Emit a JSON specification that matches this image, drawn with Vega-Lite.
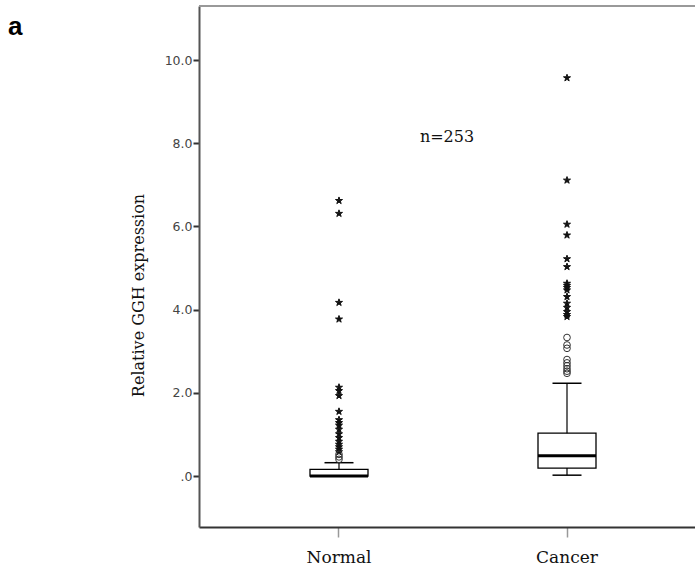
{
  "$schema": "https://vega.github.io/schema/vega-lite/v6.json",
  "autosize": "none",
  "padding": {"left": 199, "top": 6, "right": 0, "bottom": 44},
  "width": 496,
  "height": 521,
  "background": "white",
  "title": {"text": "a", "anchor": "start", "frame": "group", "orient": "top", "font": "Liberation Sans", "fontSize": 26, "fontWeight": "bold", "color": "black", "dx": -191, "dy": 56, "offset": 0, "baseline": "alphabetic"},
  "config": {"view": {"stroke": null}},
  "datasets": {
    "boxes": [
      {"group": "Normal", "lo": 0.0, "q1": 0.0, "median": 0.0, "q3": 0.16, "hi": 0.32},
      {"group": "Cancer", "lo": 0.02, "q1": 0.19, "median": 0.49, "q3": 1.03, "hi": 2.23}
    ],
    "outliers": [
      {"group": "Normal", "value": 6.62, "kind": "extreme"},
      {"group": "Normal", "value": 6.31, "kind": "extreme"},
      {"group": "Normal", "value": 4.17, "kind": "extreme"},
      {"group": "Normal", "value": 3.77, "kind": "extreme"},
      {"group": "Normal", "value": 2.13, "kind": "extreme"},
      {"group": "Normal", "value": 2.05, "kind": "extreme"},
      {"group": "Normal", "value": 1.93, "kind": "extreme"},
      {"group": "Normal", "value": 1.55, "kind": "extreme"},
      {"group": "Normal", "value": 1.35, "kind": "extreme"},
      {"group": "Normal", "value": 1.28, "kind": "extreme"},
      {"group": "Normal", "value": 1.22, "kind": "extreme"},
      {"group": "Normal", "value": 1.12, "kind": "extreme"},
      {"group": "Normal", "value": 1.01, "kind": "extreme"},
      {"group": "Normal", "value": 0.92, "kind": "extreme"},
      {"group": "Normal", "value": 0.83, "kind": "extreme"},
      {"group": "Normal", "value": 0.76, "kind": "extreme"},
      {"group": "Normal", "value": 0.70, "kind": "extreme"},
      {"group": "Normal", "value": 0.64, "kind": "extreme"},
      {"group": "Normal", "value": 0.58, "kind": "extreme"},
      {"group": "Normal", "value": 0.52, "kind": "outlier"},
      {"group": "Normal", "value": 0.46, "kind": "outlier"},
      {"group": "Normal", "value": 0.40, "kind": "outlier"},
      {"group": "Cancer", "value": 9.57, "kind": "extreme"},
      {"group": "Cancer", "value": 7.11, "kind": "extreme"},
      {"group": "Cancer", "value": 6.05, "kind": "extreme"},
      {"group": "Cancer", "value": 5.79, "kind": "extreme"},
      {"group": "Cancer", "value": 5.22, "kind": "extreme"},
      {"group": "Cancer", "value": 5.03, "kind": "extreme"},
      {"group": "Cancer", "value": 4.63, "kind": "extreme"},
      {"group": "Cancer", "value": 4.58, "kind": "extreme"},
      {"group": "Cancer", "value": 4.53, "kind": "extreme"},
      {"group": "Cancer", "value": 4.47, "kind": "extreme"},
      {"group": "Cancer", "value": 4.31, "kind": "extreme"},
      {"group": "Cancer", "value": 4.15, "kind": "extreme"},
      {"group": "Cancer", "value": 4.05, "kind": "extreme"},
      {"group": "Cancer", "value": 3.95, "kind": "extreme"},
      {"group": "Cancer", "value": 3.88, "kind": "extreme"},
      {"group": "Cancer", "value": 3.83, "kind": "extreme"},
      {"group": "Cancer", "value": 3.33, "kind": "outlier"},
      {"group": "Cancer", "value": 3.15, "kind": "outlier"},
      {"group": "Cancer", "value": 3.07, "kind": "outlier"},
      {"group": "Cancer", "value": 2.80, "kind": "outlier"},
      {"group": "Cancer", "value": 2.72, "kind": "outlier"},
      {"group": "Cancer", "value": 2.65, "kind": "outlier"},
      {"group": "Cancer", "value": 2.58, "kind": "outlier"},
      {"group": "Cancer", "value": 2.52, "kind": "outlier"},
      {"group": "Cancer", "value": 2.47, "kind": "outlier"}
    ],
    "notes": [{"label": "n=253", "value": 8.15}]
  },
  "resolve": {"scale": {"x": "independent"}},
  "layer": [
    {
      "encoding": {
        "x": {"field": "group", "type": "nominal", "sort": ["Normal", "Cancer"],
          "scale": {"type": "band", "domain": ["Normal", "Cancer"], "paddingInner": 0, "paddingOuter": 0.0877, "align": 0.65},
          "axis": {"title": null, "labelAngle": 0, "labelFont": "DejaVu Serif", "labelFontSize": 17, "labelColor": "#111", "labelPadding": 12,
            "domain": true, "domainColor": "#333", "domainWidth": 2, "tickColor": "#999", "tickSize": 10, "tickWidth": 1.5}}
      },
      "layer": [
        {
          "data": {"name": "boxes"},
          "mark": {"type": "rule", "color": "black", "strokeWidth": 1.2},
          "encoding": {
            "y": {"field": "lo", "type": "quantitative",
              "scale": {"domain": [-1.226, 11.3], "nice": false, "zero": false},
              "axis": {"title": "Relative GGH expression", "titleFont": "DejaVu Serif", "titleFontSize": 16, "titleFontWeight": "normal", "titleColor": "#111", "titleY": 289, "titleX": -61, "titleAlign": "center", "titleBaseline": "middle", "titleAngle": -90,
                "values": [0, 2, 4, 6, 8, 10], "labelExpr": "datum.value == 0 ? '.0' : format(datum.value, '.1f')",
                "labelFont": "DejaVu Sans", "labelFontSize": 12.5, "labelColor": "#444", "labelPadding": 1,
                "grid": false, "domainColor": "#555", "domainWidth": 2, "tickColor": "#333", "tickSize": 6, "tickWidth": 2}},
            "y2": {"field": "hi"}
          }
        },
        {
          "data": {"name": "boxes"},
          "mark": {"type": "tick", "orient": "horizontal", "color": "black", "opacity": 1, "size": 29, "thickness": 1.5},
          "encoding": {"y": {"field": "hi", "type": "quantitative"}}
        },
        {
          "data": {"name": "boxes"},
          "mark": {"type": "tick", "orient": "horizontal", "color": "black", "opacity": 1, "size": 29, "thickness": 1.5},
          "encoding": {"y": {"field": "lo", "type": "quantitative"}}
        },
        {
          "data": {"name": "boxes"},
          "mark": {"type": "bar", "size": 58, "fill": "white", "stroke": "black", "strokeWidth": 1.3, "opacity": 1},
          "encoding": {"y": {"field": "q1", "type": "quantitative"}, "y2": {"field": "q3"}}
        },
        {
          "data": {"name": "boxes"},
          "mark": {"type": "tick", "orient": "horizontal", "color": "black", "opacity": 1, "size": 58, "thickness": 3},
          "encoding": {"y": {"field": "median", "type": "quantitative"}}
        },
        {
          "data": {"name": "outliers"},
          "mark": {"type": "point", "strokeWidth": 1, "opacity": 1},
          "encoding": {
            "y": {"field": "value", "type": "quantitative"},
            "shape": {"field": "kind", "type": "nominal", "legend": null,
              "scale": {"domain": ["outlier", "extreme"], "range": ["circle", "M0,-1L0.2245,-0.309L0.951,-0.309L0.363,0.118L0.588,0.809L0,0.382L-0.588,0.809L-0.363,0.118L-0.951,-0.309L-0.2245,-0.309Z"]}},
            "fill": {"field": "kind", "type": "nominal", "legend": null, "scale": {"domain": ["outlier", "extreme"], "range": ["transparent", "#111"]}},
            "stroke": {"field": "kind", "type": "nominal", "legend": null, "scale": {"domain": ["outlier", "extreme"], "range": ["#333", "#111"]}},
            "size": {"field": "kind", "type": "nominal", "legend": null, "scale": {"domain": ["outlier", "extreme"], "range": [45, 55]}}
          }
        }
      ]
    },
    {
      "data": {"values": [{"top": 11.3}]},
      "mark": {"type": "rule", "color": "#999", "strokeWidth": 2},
      "encoding": {"y": {"field": "top", "type": "quantitative"}}
    },
    {
      "data": {"name": "notes"},
      "mark": {"type": "text", "font": "DejaVu Serif", "fontSize": 16, "color": "#111"},
      "encoding": {
        "x": {"datum": 0.5, "type": "quantitative", "scale": {"domain": [0, 1]}, "axis": null},
        "y": {"field": "value", "type": "quantitative"},
        "text": {"field": "label"}
      }
    }
  ]
}
